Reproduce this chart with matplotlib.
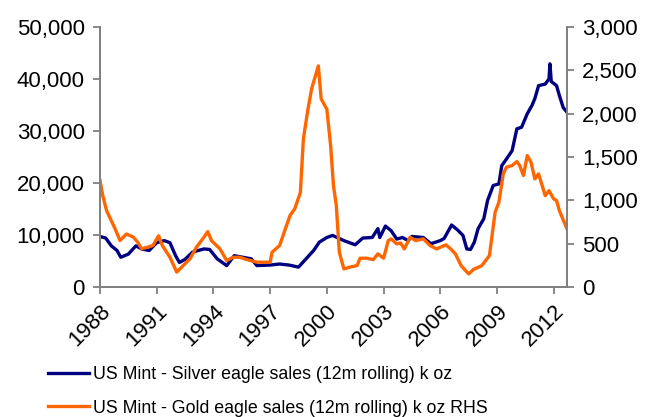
import matplotlib
matplotlib.use("Agg")
import matplotlib.pyplot as plt

plt.rcParams['font.family'] = ['Liberation Sans', 'DejaVu Sans']

# silver eagle sales, 12m rolling, k oz (left axis)
silver_yr = [1988.0, 1988.3, 1988.6, 1988.9, 1989.1, 1989.5, 1989.9, 1990.2, 1990.6, 1991.0,
             1991.4, 1991.7, 1992.0, 1992.2, 1992.5, 1992.9, 1993.5, 1993.8, 1994.2, 1994.7,
             1995.1, 1995.4, 1996.0, 1996.3, 1997.0, 1997.5, 1998.0, 1998.5, 1998.9, 1999.3,
             1999.6, 2000.0, 2000.3, 2000.9, 2001.5, 2001.9, 2002.4, 2002.7, 2002.8, 2003.1,
             2003.4, 2003.7, 2004.0, 2004.3, 2004.5, 2005.1, 2005.5, 2006.0, 2006.2, 2006.6,
             2006.9, 2007.2, 2007.4, 2007.6, 2007.8, 2008.0, 2008.3, 2008.5, 2008.8, 2009.1,
             2009.25, 2009.5, 2009.8, 2010.05, 2010.3, 2010.6, 2010.85, 2011.0, 2011.2, 2011.55,
             2011.75, 2011.8, 2011.87, 2012.15, 2012.3, 2012.5, 2012.7]
silver = [9700, 9400, 7900, 7000, 5700, 6300, 7900, 7300, 7000, 8500,
          8900, 8500, 6000, 4700, 5300, 6700, 7300, 7200, 5400, 4100,
          6000, 5800, 5400, 4100, 4200, 4400, 4200, 3800, 5400, 7000,
          8600, 9500, 9900, 8900, 8100, 9400, 9500, 11200, 9500, 11700,
          10800, 9200, 9500, 8900, 9700, 9500, 8300, 8900, 9300, 11900,
          11000, 9900, 7300, 7200, 8600, 11200, 13100, 16600, 19500, 19800,
          23300, 24600, 26200, 30400, 30700, 33300, 34900, 36200, 38700, 39000,
          40000, 42900, 39500, 38700, 36800, 34500, 33600]

# gold eagle sales, 12m rolling, k oz (right axis)
gold_yr = [1988.0, 1988.15, 1988.35, 1988.5, 1988.8, 1989.06, 1989.4, 1989.76, 1990.0, 1990.2,
           1990.5, 1990.8, 1991.1, 1991.3, 1991.7, 1992.06, 1992.4, 1992.76, 1993.1, 1993.5,
           1993.7, 1993.9, 1994.35, 1994.7, 1995.05, 1995.4, 1995.76, 1996.3, 1997.0, 1997.1,
           1997.5, 1998.05, 1998.3, 1998.6, 1998.76, 1999.0, 1999.2, 1999.55, 1999.7, 2000.0,
           2000.2, 2000.35, 2000.5, 2000.66, 2000.9, 2001.2, 2001.6, 2001.76, 2002.1, 2002.46,
           2002.7, 2003.0, 2003.25, 2003.4, 2003.7, 2003.9, 2004.1, 2004.4, 2004.7, 2005.1,
           2005.46, 2005.8, 2006.3, 2006.55, 2006.8, 2007.1, 2007.5, 2007.75, 2008.2, 2008.6,
           2008.9, 2009.1, 2009.33, 2009.5, 2009.8, 2010.05, 2010.2, 2010.4, 2010.6, 2010.8,
           2011.0, 2011.2, 2011.55, 2011.75, 2012.0, 2012.15, 2012.3, 2012.7]
gold = [1230, 1050, 880, 810, 670, 535, 610, 575, 515, 440,
        457, 477, 590, 477, 342, 170, 246, 323, 457, 573,
        638, 534, 438, 304, 342, 342, 315, 285, 285, 400,
        477, 823, 900, 1090, 1710, 2050, 2290, 2550, 2170, 2050,
        1630, 1170, 940, 400, 208, 227, 246, 331, 331, 315,
        381, 331, 534, 554, 496, 507, 438, 573, 534, 554,
        477, 438, 485, 438, 381, 246, 150, 200, 246, 361,
        861, 977, 1304, 1381, 1400, 1446, 1400, 1285, 1515, 1438,
        1246, 1304, 1053, 1110, 1015, 996, 880, 669]

xticks = [1988, 1991, 1994, 1997, 2000, 2003, 2006, 2009, 2012]

fig = plt.figure(figsize=(6.45, 4.17), dpi=100)
ax = fig.add_axes([0.155, 0.312, 0.724, 0.6235])
ax2 = ax.twinx()

l1, = ax.plot(silver_yr, silver, color='#000080', lw=2.4,
              label='US Mint - Silver eagle sales (12m rolling) k oz')
l2, = ax2.plot(gold_yr, gold, color='#FF6600', lw=2.4,
               label='US Mint - Gold eagle sales (12m rolling) k oz RHS')

ax.set_xlim(1988, 2012.7)
ax.set_ylim(0, 50000)
ax2.set_ylim(0, 3000)
ax.set_yticks(range(0, 50001, 10000))
ax.set_yticklabels([f'{v:,}' for v in range(0, 50001, 10000)])
ax2.set_yticks(range(0, 3001, 500))
ax2.set_yticklabels([f'{v:,}' for v in range(0, 3001, 500)])
ax.set_xticks(xticks)
ax.set_xticklabels([str(t) for t in xticks], rotation=45, ha='right', rotation_mode='anchor')

gray = '#808080'
for a in (ax, ax2):
    a.spines['top'].set_visible(False)
    for s in ('left', 'right', 'bottom'):
        a.spines[s].set_color(gray)
        a.spines[s].set_linewidth(1.3)
    a.tick_params(colors=gray, labelcolor='black', labelsize=16, width=1.3, length=5, pad=6)
ax.tick_params(axis='x', pad=5)

fig.legend(handles=[l1, l2], loc='upper left', bbox_to_anchor=(0.064, 0.14),
           frameon=False, fontsize=12.8, handlelength=2.3, handletextpad=0.2,
           labelspacing=0.95, borderaxespad=0)

fig.savefig('out.png', dpi=100)
